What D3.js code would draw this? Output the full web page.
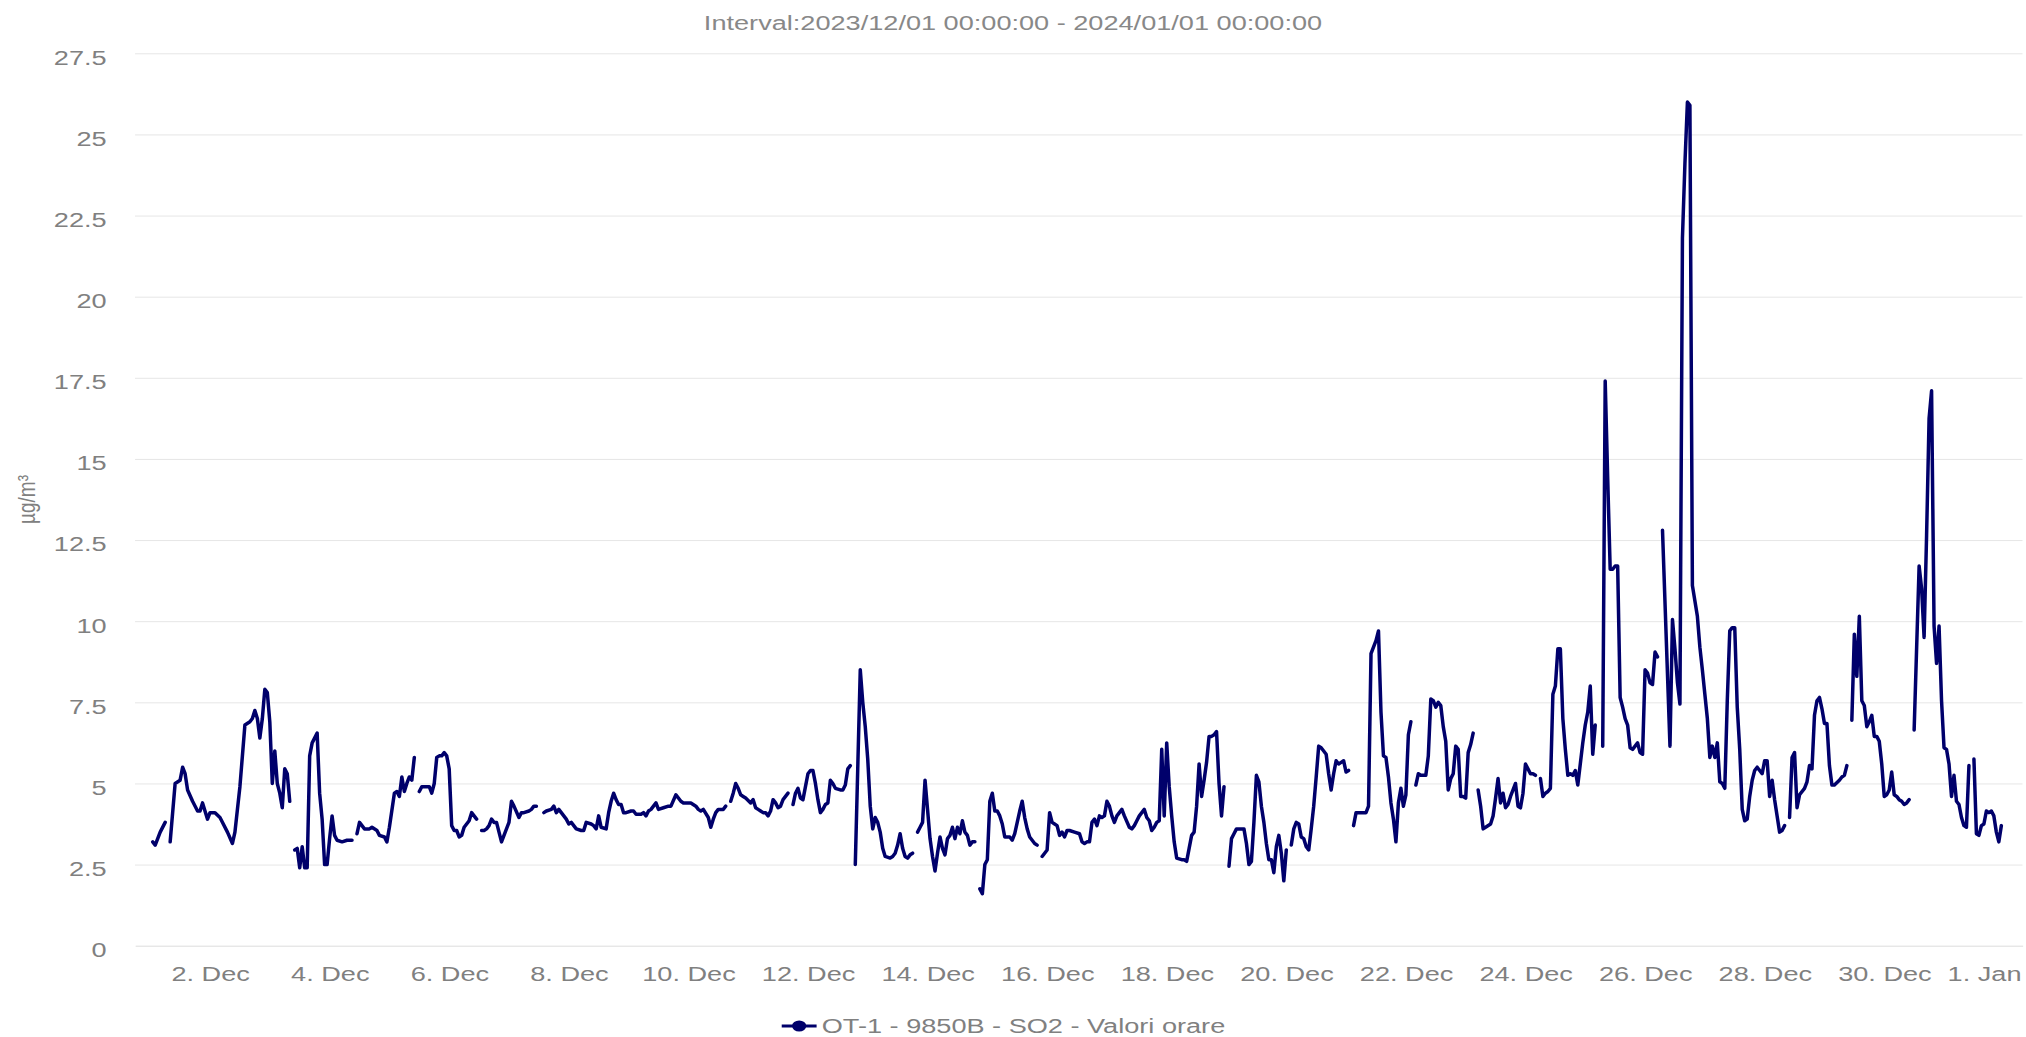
<!DOCTYPE html>
<html>
<head>
<meta charset="utf-8">
<script src="https://cdn.jsdelivr.net/npm/d3@7"></script>
<style>
  html, body { margin: 0; padding: 0; background: #ffffff; }
  svg { display: block; }
  text { font-family: "Liberation Sans", Arial, Helvetica, sans-serif; }
</style>
</head>
<body>
<div id="chart"></div>
<script>
// chart texts
var chartTitle = "Interval:2023/12/01 00:00:00 - 2024/01/01 00:00:00";
var seriesName = "OT-1 - 9850B - SO2 - Valori orare";
var yAxisTitle = "µg/m³";

// axis ticks
var yTicks = [0, 2.5, 5, 7.5, 10, 12.5, 15, 17.5, 20, 22.5, 25, 27.5];
var xTickDates = ["2023-12-02", "2023-12-04", "2023-12-06", "2023-12-08", "2023-12-10",
    "2023-12-12", "2023-12-14", "2023-12-16", "2023-12-18", "2023-12-20", "2023-12-22",
    "2023-12-24", "2023-12-26", "2023-12-28", "2023-12-30", "2024-01-01"];

// hourly readings, hours counted from 2023/12/01 00:00 (null = missing hour)
var hourOffsets = [
    1, 2, 4, 6, 7, 8, 10, 12, 13, 14, 15, 17, 19, 20, 21, 23, 24, 26, 28, 31, 33, 34, 36, 38, 40, 41, 42, 43, 44, 45, 46, 47, 48, 49, 50, 51, 52, 53, 54, 55, 56, 57,
    58, 59, 60, 61, 62, 63, 64, 65, 67, 68, 69, 70, 71, 72, 73, 74, 75, 77, 79, 81, 82,
    83, 84, 86, 88, 89, 91, 92, 94, 95, 96, 98, 99, 100, 101, 102, 103, 104, 105, 106, 107,
    108, 109, 111, 112, 113, 114, 115, 116, 117, 118, 119, 120, 121, 122, 123, 124, 125, 126, 128, 129, 130, 131, 132,
    133, 134, 135, 136, 137, 138, 139, 140, 141, 142, 144, 145, 146, 148, 149, 150, 152, 153, 154, 155, 156,
    158, 159, 161, 162, 163, 164, 165, 166, 167, 168, 169, 170, 171, 173, 174, 175, 177, 178, 179, 180, 181, 183, 184, 185, 186, 187, 188, 189, 190, 191,
    193, 194, 195, 197, 198, 199, 200, 201, 203, 204, 206, 208, 209, 211, 212, 213, 214, 215, 217, 219, 220, 221, 222, 224, 225, 226, 227, 228, 230, 231, 232,
    233, 234, 235, 236, 237, 238, 239, 241, 242, 243, 244, 245, 246, 247, 248, 249, 250, 251, 252, 253, 254, 255, 256, 257,
    258, 259, 260, 261, 262, 263, 264, 265, 266, 267, 268, 269, 270, 271, 272, 273, 274, 275, 277, 278, 279, 280, 281, 282,
    283, 285, 286, 287, 288, 289, 290, 291, 292, 293, 294, 295, 297, 298, 299, 300, 301, 302, 303, 304, 305, 306, 307,
    308, 309, 310, 311, 312, 313, 314, 315, 316, 317, 318, 319, 320, 321, 322, 323, 324, 325, 326, 327, 328, 329, 330, 331, 332,
    333, 334, 335, 336, 337, 338, 339, 340, 341, 342, 343, 345, 346, 347, 348, 349, 350, 351, 352, 353, 355, 356, 357,
    358, 359, 360, 361, 362, 363, 364, 365, 366, 367, 368, 369, 371, 373, 374, 375, 376, 377, 378, 379, 380, 381, 382, 383, 384, 385, 386, 387, 388, 389, 390, 391,
    393, 394, 395, 396, 397, 399, 400, 401, 402, 403, 404, 405, 406, 407, 408, 409, 410, 411, 412, 414, 415, 416, 417, 418, 419, 420, 421, 422, 423, 424, 425, 426, 427, 428, 429, 430, 431, 432,
    433, 434, 435, 436, 437, 439, 440, 441, 442, 443, 444, 445, 446, 447, 448, 449, 450, 451, 452, 453, 454, 455, 456, 457,
    458, 459, 460, 461, 462, 463, 464, 465, 466, 467, 468, 469, 470, 471, 472, 473, 474, 475, 476, 477, 478, 479, 480, 481, 482,
    483, 484, 486, 488, 489, 490, 491, 492, 493, 494, 495, 496, 497, 498, 499, 500, 501, 502, 503, 504, 505, 506, 507,
    508, 509, 510, 511, 512, 513, 514, 515, 516, 517, 518, 519, 520, 521, 522, 523, 524, 525, 526, 527, 528, 529, 530, 531, 532,
    533, 534, 535, 536, 538, 539, 540, 541, 542, 543, 544, 545, 546, 547, 548, 549, 550, 551, 552, 553, 554, 555, 556, 557,
    558, 559, 560, 561, 562, 563, 564, 565, 566, 567, 568, 569, 570, 571, 572, 573, 574, 575, 576, 577, 578, 579, 580, 581,
    583, 584, 585, 586, 587, 588, 589, 590, 591, 592, 593, 594, 595, 596, 597, 598, 599, 600, 601, 602, 603, 604, 605, 606,
    607, 610, 611, 612, 613, 614, 615, 616, 617, 618, 619, 621, 622, 623, 624, 625, 626, 627, 628, 629, 630, 631, 632,
    633, 634, 635, 636, 637, 638, 639, 640, 641, 642, 643, 644, 645, 646, 647, 648, 649, 650, 651, 652, 653, 654, 655, 656, 657,
    658, 659, 660, 661, 662, 664, 665, 666, 667, 668, 669, 670, 671, 672, 673, 674, 675, 676, 678, 679, 680, 681, 682,
    683, 684, 685, 686, 687, 688, 689, 690, 691, 692, 693, 694, 695, 696, 697, 698, 699, 700, 701, 702, 703, 704, 705, 706, 707,
    708, 710, 711, 712, 713, 714, 715, 716, 717, 718, 719, 720, 721, 722, 723, 724, 725, 726, 727, 728, 729, 730, 731,
    732, 733, 734, 735, 736, 737, 738, 739, 740, 741, 742, 743
];
var so2Values = [
    3.2, 3.1, 3.5, 3.8, null, 3.2, 5.0, 5.1, 5.5, 5.3, 4.8, 4.45, 4.15, 4.15, 4.4, 3.9, 4.1, 4.1, 3.95, 3.5, 3.15, 3.5, 4.9, 6.8, 6.9, 7.0, 7.25, 7.0, 6.4, 7.0, 7.9, 7.8, 6.9, 5.0, 6.0, 5.0, 4.7, 4.25, 5.45, 5.3, 4.45, null,
    2.95, 3.0, 2.4, 3.05, 2.4, 2.4, 5.85, 6.25, 6.55, 4.7, 3.9, 2.5, 2.5, 3.3, 4.0, 3.4, 3.25, 3.2, 3.25, 3.25, null,
    3.45, 3.8, 3.6, 3.6, 3.65, 3.55, 3.4, 3.35, 3.2, 3.65, 4.7, 4.75, 4.6, 5.2, 4.75, 5.0, 5.2, 5.1, 5.8, null,
    4.75, 4.9, 4.9, 4.9, 4.7, 5.0, 5.8, 5.85, 5.85, 5.95, 5.85, 5.45, 3.7, 3.55, 3.55, 3.35, 3.4, 3.65, 3.85, 4.1, 4.0, 3.9, null,
    3.55, 3.55, 3.6, 3.7, 3.9, 3.8, 3.8, 3.5, 3.2, 3.4, 3.8, 4.45, 4.3, 3.95, 4.1, 4.1, 4.15, 4.2, 4.3, 4.3, null,
    4.1, 4.15, 4.2, 4.3, 4.1, 4.2, 4.1, 4.0, 3.9, 3.75, 3.8, 3.7, 3.6, 3.55, 3.55, 3.8, 3.75, 3.7, 3.6, 4.0, 3.65, 3.6, 4.1, 4.45, 4.7, 4.5, 4.35, 4.35, 4.1, 4.1,
    4.15, 4.15, 4.05, 4.05, 4.1, 4.0, 4.15, 4.2, 4.4, 4.2, 4.25, 4.3, 4.3, 4.65, 4.55, 4.45, 4.4, 4.4, 4.4, 4.3, 4.2, 4.15, 4.2, 3.95, 3.65, 3.9, 4.1, 4.2, 4.2, 4.3, null,
    4.45, 4.7, 5.0, 4.85, 4.65, 4.6, 4.55, 4.4, 4.5, 4.25, 4.2, 4.15, 4.1, 4.1, 4.0, 4.15, 4.5, 4.4, 4.25, 4.3, 4.5, 4.6, 4.7, null,
    4.35, 4.7, 4.85, 4.55, 4.5, 4.9, 5.3, 5.4, 5.4, 5.0, 4.5, 4.1, 4.2, 4.35, 4.4, 5.1, 5.0, 4.85, 4.8, 4.8, 4.95, 5.45, 5.55, null,
    2.5, 8.5, 7.5, 6.75, 5.75, 4.3, 3.6, 3.95, 3.8, 3.5, 3.0, 2.75, 2.7, 2.75, 2.85, 3.1, 3.45, 3.0, 2.75, 2.7, 2.8, 2.85, null,
    3.5, 3.65, 3.8, 5.1, 4.2, 3.3, 2.75, 2.3, 2.85, 3.35, 3.0, 2.8, 3.3, 3.4, 3.65, 3.3, 3.65, 3.45, 3.85, 3.5, 3.4, 3.1, 3.2, 3.2, null,
    1.75, 1.6, 2.5, 2.65, 4.45, 4.7, 4.15, 4.15, 4.0, 3.75, 3.35, 3.35, 3.25, 3.45, 3.8, 4.15, 4.45, 3.95, 3.6, 3.35, 3.15, 3.1, null,
    2.75, 2.85, 2.95, 4.1, 3.8, 3.75, 3.7, 3.4, 3.5, 3.35, 3.55, 3.55, 3.5, 3.45, 3.2, 3.15, 3.2, 3.2, 3.8, 3.9, 3.7, 4.0, 3.95, 4.0, 4.45, 4.3, 4.0, 3.8, 4.0, 4.1, 4.2, 4.0,
    3.65, 3.6, 3.7, 3.85, 4.0, 4.2, 3.95, 3.85, 3.55, 3.65, 3.8, 3.85, 6.05, 4.0, 6.25, 4.9, 4.0, 3.2, 2.7, 2.65, 2.65, 2.6, 3.0, 3.4, 3.5, 4.3, 5.6, 4.6, 5.1, 5.65, 6.45, 6.45, 6.5, 6.6, 5.0, 4.0, 4.9, null,
    2.45, 3.3, 3.45, 3.6, 3.6, 3.6, 3.15, 2.5, 2.6, 3.8, 5.25, 5.05, 4.3, 3.8, 3.15, 2.65, 2.65, 2.25, 3.05, 3.4, 2.85, 2.0, 2.95, null,
    3.1, 3.6, 3.8, 3.75, 3.35, 3.3, 3.05, 2.95, 3.6, 4.3, 5.2, 6.15, 6.1, 6.0, 5.9, 5.3, 4.8, 5.3, 5.7, 5.6, 5.65, 5.7, 5.35, 5.4, null,
    3.7, 4.1, 4.1, 4.1, 4.3, 9.0, 9.2, 9.4, 9.7, 7.2, 5.85, 5.8, 5.2, 4.4, 3.9, 3.2, 4.4, 4.85, 4.3, 4.65, 6.5, 6.9, null,
    4.95, 5.3, 5.25, 5.25, 5.25, 5.85, 7.6, 7.55, 7.35, 7.5, 7.4, 6.75, 6.3, 4.8, 5.15, 5.3, 6.15, 6.05, 4.6, 4.6, 4.55, 5.95, 6.2, 6.55, null,
    4.8, 4.3, 3.6, 3.65, 3.75, 4.0, 4.55, 5.15, 4.4, 4.7, 4.25, 4.35, 4.6, 4.8, 5.0, 4.3, 4.25, 4.7, 5.6, 5.45, 5.3, 5.3, 5.25, null,
    5.15, 4.6, 4.7, 4.75, 4.85, 7.75, 8.0, 9.15, 9.15, 7.0, 6.05, 5.25, 5.3, 5.25, 5.4, 4.95, 5.6, 6.25, 6.8, 7.2, 8.0, 5.9, 6.8, null,
    6.15, 17.4, 14.4, 11.6, 11.6, 11.7, 11.7, 7.65, 7.35, 7.0, 6.8, 6.1, 6.05, 6.15, 6.25, 5.95, 5.9, 8.5, 8.4, 8.1, 8.05, 9.05, 8.9, null,
    12.8, 6.15, 10.05, 9.15, 8.1, 7.45, 21.8, 24.1, 26.0, 25.9, 11.1, 10.15, 9.2, 8.5, 7.75, 7.0, 5.8, 6.15, 5.8, 6.25, 5.05, 5.0, 4.85,
    7.55, 9.7, 9.8, 9.8, 7.35, 6.05, 4.2, 3.85, 3.9, 4.6, 5.1, 5.4, 5.5, 5.4, 5.3, 5.7, 5.7, 4.6, 5.1, 4.5, 4.0, 3.5, 3.55, 3.7, null,
    3.95, 5.8, 5.95, 4.25, 4.65, 4.85, 5.05, 5.55, 5.45, 7.1, 7.55, 7.65, 7.3, 6.85, 6.85, 5.55, 4.95, 4.95, 5.1, 5.2, 5.25, 5.55, null,
    6.95, 9.6, 8.3, 10.15, 7.55, 7.4, 6.75, 6.9, 7.1, 6.45, 6.45, 6.3, 5.6, 4.6, 4.65, 4.8, 5.35, 4.65, 4.6, 4.5, 4.45, 4.35, 4.4, 4.5, null,
    6.65, 11.7, 11.0, 9.5, 12.65, 16.25, 17.1, 9.85, 8.7, 9.85, 7.55, 6.1, 6.05, 5.6, 4.6, 5.25, 4.45, 4.35, 3.95, 3.7, 3.65, 5.55, null,
    5.75, 3.45, 3.4, 3.7, 3.75, 4.15, 4.1, 4.15, 4.0, 3.5, 3.2, 3.7
];

makePlot();

function makePlot() {
    // the reference picture is stretched sideways, so draw on a 1568 wide canvas and stretch it
    var svgWidth = 2026;
    var svgHeight = 1037;
    var viewWidth = 1568;

    var plotLeft = 104.5;
    var plotRight = 1565.3;
    var plotTop = 53.3;
    var plotBottom = 945.7;

    var svg = d3.select("#chart")
        .append("svg")
        .attr("width", svgWidth)
        .attr("height", svgHeight)
        .attr("viewBox", `0 0 ${viewWidth} ${svgHeight}`)
        .attr("preserveAspectRatio", "none");

    var startTime = Date.UTC(2023, 11, 1);
    var hourMs = 3600 * 1000;

    var data = hourOffsets.map(function(h, i) {
        return { time: new Date(startTime + h * hourMs), value: so2Values[i] };
    });

    // scales
    var xScale = d3.scaleUtc()
        .domain([new Date(startTime - 6.1 * hourMs), new Date(startTime + (744 + 7.5) * hourMs)])
        .range([plotLeft, plotRight]);

    var yScale = d3.scaleLinear()
        .domain([0, 27.5])
        .range([plotBottom, plotTop]);

    // grid lines
    svg.append("g")
        .attr("transform", `translate(${plotLeft}, 0)`)
        .call(d3.axisLeft(yScale).tickValues(yTicks.slice(1)).tickSize(-(plotRight - plotLeft)).tickFormat(""))
        .call(g => g.select(".domain").remove())
        .selectAll("line")
        .attr("stroke", "#e6e6e6")
        .attr("stroke-width", 1)
        .attr("vector-effect", "non-scaling-stroke");

    // y axis labels
    var yAxis = svg.append("g")
        .attr("transform", `translate(${plotLeft}, 0)`)
        .call(d3.axisLeft(yScale).tickValues(yTicks).tickSize(0).tickPadding(22).tickFormat(d => String(d)));
    yAxis.select(".domain").remove();
    yAxis.selectAll("text")
        .attr("dy", "0.52em")
        .attr("font-size", 21)
        .attr("font-family", "'Liberation Sans', Arial, sans-serif")
        .attr("fill", "#808080");

    // x axis
    var tickDates = xTickDates.map(s => new Date(s + "T00:00:00Z"));
    var xAxis = svg.append("g")
        .attr("transform", `translate(0, ${plotBottom})`)
        .call(d3.axisBottom(xScale).tickValues(tickDates).tickSize(0).tickSizeOuter(0).tickPadding(20.4)
            .tickFormat(d3.utcFormat("%-d. %b")));
    xAxis.select(".domain")
        .attr("stroke", "#dcdcdc")
        .attr("stroke-width", 1)
        .attr("vector-effect", "non-scaling-stroke");
    xAxis.selectAll("text")
        .attr("font-size", 21)
        .attr("font-family", "'Liberation Sans', Arial, sans-serif")
        .attr("fill", "#808080");

    // keep the last label inside the picture
    xAxis.selectAll(".tick").each(function(d) {
        var label = d3.select(this).select("text");
        var half = label.node().getComputedTextLength() / 2;
        var pos = xScale(d);
        if (pos + half > viewWidth - 4) {
            label.attr("text-anchor", "end").attr("x", (viewWidth - 4) - pos);
        }
    });

    // the series line
    var line = d3.line()
        .defined(d => d.value !== null)
        .x(d => xScale(d.time))
        .y(d => yScale(d.value));

    svg.append("path")
        .datum(data)
        .attr("d", line)
        .attr("fill", "none")
        .attr("stroke", "#00006b")
        .attr("stroke-width", 3.5)
        .attr("stroke-linejoin", "round")
        .attr("stroke-linecap", "round")
        .attr("vector-effect", "non-scaling-stroke");

    // title
    svg.append("text")
        .attr("x", viewWidth / 2)
        .attr("y", 30)
        .attr("text-anchor", "middle")
        .attr("font-size", 21)
        .attr("fill", "#888888")
        .text(chartTitle);

    // y axis title
    svg.append("text")
        .attr("transform", `translate(20.6, ${(plotTop + plotBottom) / 2}) rotate(-90)`)
        .attr("text-anchor", "middle")
        .attr("dy", "0.35em")
        .attr("font-size", 19)
        .attr("fill", "#808080")
        .text(yAxisTitle);

    // legend
    var legend = svg.append("g")
        .attr("transform", "translate(605, 1026)");

    legend.append("line")
        .attr("x1", 0)
        .attr("x2", 27)
        .attr("y1", 0)
        .attr("y2", 0)
        .attr("stroke", "#00006b")
        .attr("stroke-width", 3)
        .attr("vector-effect", "non-scaling-stroke");

    legend.append("circle")
        .attr("cx", 13.5)
        .attr("cy", 0)
        .attr("r", 5.5)
        .attr("fill", "#00006b");

    legend.append("text")
        .attr("x", 31)
        .attr("y", 6.5)
        .attr("font-size", 21)
        .attr("fill", "#808080")
        .text(seriesName);
}
</script>
</body>
</html>
